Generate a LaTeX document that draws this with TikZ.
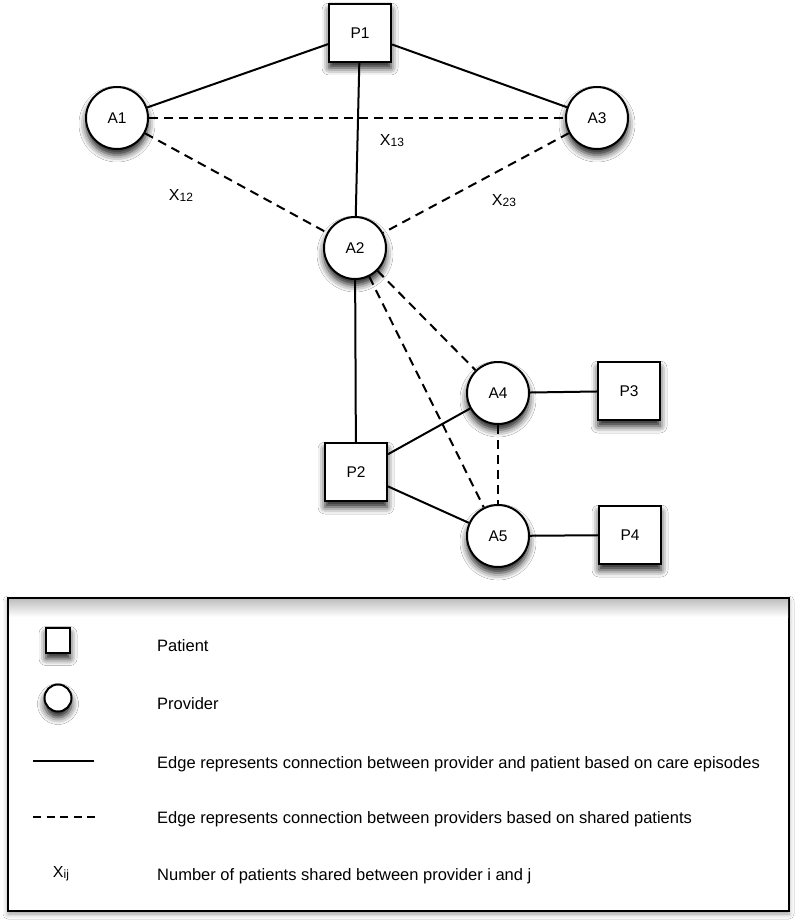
\documentclass[tikz,border=0pt]{standalone}
\usepackage{fontspec}
\setmainfont{Liberation Sans}
\usetikzlibrary{shadows.blur}
\newcommand\xsub[1]{X\raisebox{-1pt}{\fontsize{12}{12}\selectfont #1}}
\begin{document}
\begin{tikzpicture}[x=1pt,y=-1pt,
  base/.style={draw=black, line width=2pt, fill=white, inner sep=0pt,
    font=\fontsize{15.5}{15.5}\selectfont,
    blur shadow={shadow xshift=0pt, shadow yshift=-6pt, shadow blur radius=7pt, shadow opacity=90}},
  patient/.style={base, rectangle, minimum width=62pt, minimum height=58pt},
  provider/.style={base, circle, minimum size=62pt},
  solidedge/.style={line width=2pt},
  dashededge/.style={line width=2pt, dash pattern=on 9pt off 6pt},
  lab/.style={inner sep=0pt, font=\fontsize{16}{16}\selectfont},
  legtext/.style={inner sep=0pt, anchor=base west, font=\fontsize{16.5}{16.5}\selectfont},
]
\useasboundingbox (0,0) rectangle (797,920);
\fill[white] (0,0) rectangle (797,920);

% graph nodes
\node[patient] (P1) at (360,33) {P1};
\node[provider] (A1) at (117,118) {A1};
\node[provider] (A3) at (597,118) {A3};
\node[provider] (A2) at (355,248) {A2};
\node[provider] (A4) at (498,393) {A4};
\node[provider] (A5) at (498,536) {A5};
\node[patient] (P2) at (356,472) {P2};
\node[patient] (P3) at (629,391) {P3};
\node[patient] (P4) at (630,535) {P4};

% solid edges
\draw[solidedge] (P1) -- (A1);
\draw[solidedge] (P1) -- (A3);
\draw[solidedge] (P1) -- (A2);
\draw[solidedge] (A2) -- (P2);
\draw[solidedge] (P2) -- (A4);
\draw[solidedge] (P2) -- (A5);
\draw[solidedge] (A4) -- (P3);
\draw[solidedge] (A5) -- (P4);

% dashed edges
\draw[dashededge] (A1) -- (A3);
\draw[dashededge] (A1) -- (A2);
\draw[dashededge] (A3) -- (A2);
\draw[dashededge] (A2) -- (A4);
\draw[dashededge] (A2) -- (A5);
\draw[dashededge] (A4) -- (A5);

% labels
\node[lab] (x13) at (392,141) {\xsub{13}};
\node[lab] (x12) at (181,195) {\xsub{12}};
\node[lab] (x23) at (504,201) {\xsub{23}};

% legend
\node[draw=black, line width=2pt, fill=white, minimum width=781pt, minimum height=313pt,
  blur shadow={shadow xshift=0pt, shadow yshift=-3pt, shadow blur radius=5pt, shadow opacity=40}] (legend) at (398.5,754.5) {};
\shade[top color=black!25, bottom color=white] (9,599) rectangle (788,617);
\node[patient, minimum width=24pt, minimum height=25pt] (lsq) at (58,640) {};
\node[provider, minimum size=27pt] (lci) at (58,698) {};
\coordinate (ls1) at (33,761);
\coordinate (ls2) at (94,761);
\draw[solidedge] (ls1) -- (ls2);
\coordinate (ld1) at (33,817);
\coordinate (ld2) at (95,817);
\draw[line width=2pt, dash pattern=on 8pt off 5.5pt] (ld1) -- (ld2);
\node[lab] (lx) at (61,874) {X\raisebox{-1pt}{\fontsize{12}{12}\selectfont ij}};

\node[legtext] (t1) at (157,651) {Patient};
\node[legtext] (t2) at (157,709) {Provider};
\node[legtext] (t3) at (157,768) {Edge represents connection between provider and patient based on care episodes};
\node[legtext] (t4) at (157,823) {Edge represents connection between providers based on shared patients};
\node[legtext] (t5) at (157,880) {Number of patients shared between provider i and j};
\end{tikzpicture}
\end{document}
